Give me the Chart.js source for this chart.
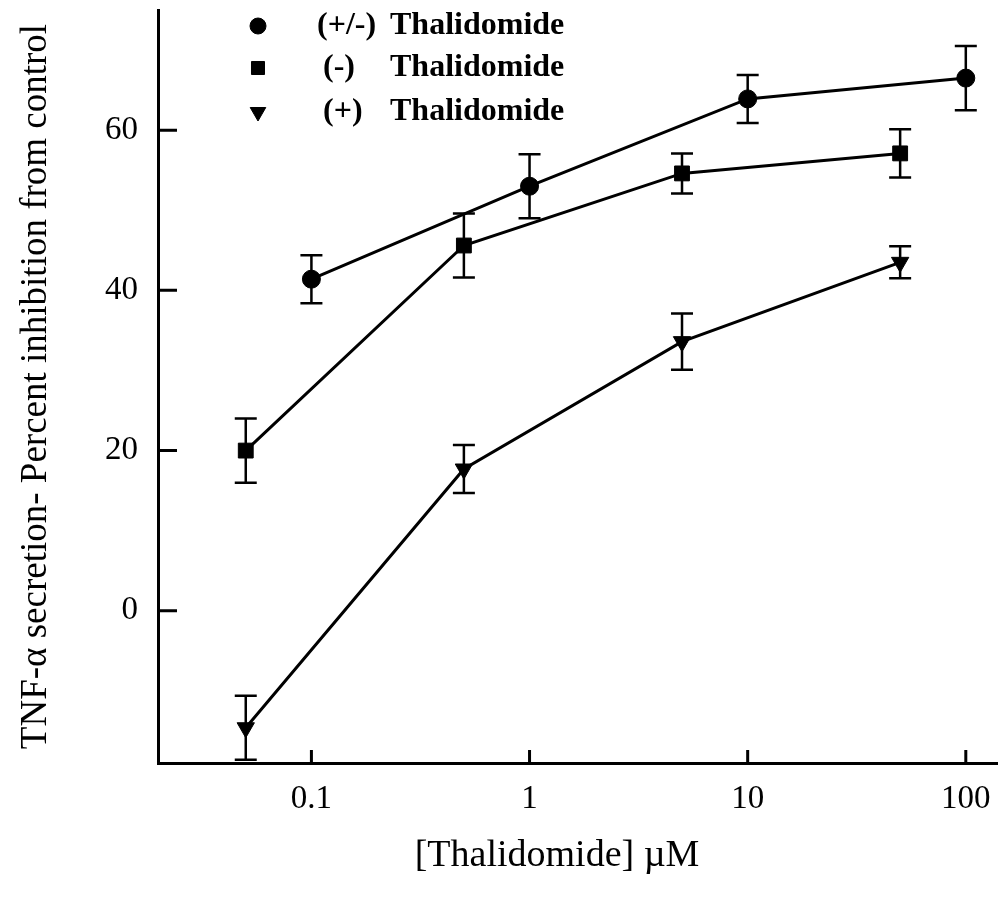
<!DOCTYPE html>
<html>
<head>
<meta charset="utf-8">
<title>TNF-α secretion vs Thalidomide</title>
<script src="https://cdn.jsdelivr.net/npm/chart.js@4.4.1/dist/chart.umd.min.js"></script>
<style>
  html, body { margin: 0; padding: 0; background: #fff; }
  canvas { display: block; }
</style>
</head>
<body>
<canvas id="chart" width="1002" height="900"></canvas>
<script>
// Concentrations (µM)
const doseRacemic = [0.1, 1, 10, 100];
const doseEnantiomer = [0.05, 0.5, 5, 50];

// Percent inhibition of TNF-α secretion (mean and error)
const racemicMean = [41.4, 53.0, 63.9, 66.5];
const racemicErr  = [3.0, 4.0, 3.0, 4.0];
const minusMean   = [20.0, 45.6, 54.6, 57.1];
const minusErr    = [4.0, 4.0, 2.5, 3.0];
const plusMean    = [-14.6, 17.7, 33.6, 43.5];
const plusErr     = [4.0, 3.0, 3.5, 2.0];

// Series labels
const seriesPrefixes = ['(+/-)', '(-)', '(+)'];
const seriesName = 'Thalidomide';

// Axis ticks and captions
const xTickValues = [0.1, 1, 10, 100];
const yTickValues = [0, 20, 40, 60];
const xAxisCaption = '[Thalidomide] µM';
const yAxisCaption = 'TNF-α secretion- Percent inhibition from control';

const SERIF = '"Liberation Serif", "Times New Roman", Times, serif';

function points(xs, ys) {
  return xs.map((x, i) => ({ x: x, y: ys[i] }));
}

// Vertical error bars with caps, drawn from each dataset's `errors` array
const errorBarPlugin = {
  id: 'errorBars',
  afterDatasetsDraw(chart, args, opts) {
    const ctx = chart.ctx;
    const xs = chart.scales.x, ys = chart.scales.y;
    ctx.save();
    ctx.strokeStyle = opts.color;
    ctx.lineWidth = opts.lineWidth;
    ctx.lineCap = 'butt';
    chart.data.datasets.forEach(ds => {
      ds.data.forEach((p, i) => {
        const e = ds.errors[i];
        const px = xs.getPixelForValue(p.x);
        const top = ys.getPixelForValue(p.y + e);
        const bot = ys.getPixelForValue(p.y - e);
        const h = opts.capWidth / 2;
        ctx.beginPath();
        ctx.moveTo(px, top); ctx.lineTo(px, bot);
        ctx.moveTo(px - h, top); ctx.lineTo(px + h, top);
        ctx.moveTo(px - h, bot); ctx.lineTo(px + h, bot);
        ctx.stroke();
      });
    });
    ctx.restore();
  }
};

// Tick marks pointing into the plot area
const innerTicksPlugin = {
  id: 'innerTicks',
  afterDraw(chart, args, opts) {
    const ctx = chart.ctx;
    const a = chart.chartArea;
    const xs = chart.scales.x, ys = chart.scales.y;
    ctx.save();
    ctx.strokeStyle = opts.color;
    ctx.lineWidth = opts.lineWidth;
    ctx.beginPath();
    yTickValues.forEach(v => {
      const py = ys.getPixelForValue(v);
      ctx.moveTo(a.left, py); ctx.lineTo(a.left + opts.yLength, py);
    });
    xTickValues.forEach(v => {
      const px = xs.getPixelForValue(v);
      ctx.moveTo(px, a.bottom); ctx.lineTo(px, a.bottom - opts.xLength);
    });
    ctx.stroke();
    ctx.restore();
  }
};

// Horizontal axis caption
const xCaptionPlugin = {
  id: 'xCaption',
  afterDraw(chart, args, opts) {
    const ctx = chart.ctx;
    ctx.save();
    ctx.fillStyle = '#000';
    ctx.font = opts.font;
    ctx.textAlign = 'center';
    ctx.textBaseline = 'middle';
    ctx.fillText(xAxisCaption, opts.x, opts.y);
    ctx.restore();
  }
};

// Legend block in the upper left of the plot
const symbolLegendPlugin = {
  id: 'symbolLegend',
  afterDraw(chart, args, opts) {
    const ctx = chart.ctx;
    ctx.save();
    ctx.fillStyle = '#000';
    ctx.font = opts.font;
    ctx.textBaseline = 'middle';
    ctx.textAlign = 'left';
    chart.data.datasets.forEach((ds, i) => {
      const y = opts.rowY[i];
      Chart.helpers.drawPoint(ctx, {
        pointStyle: ds.pointStyle,
        radius: opts.markerRadius[i],
        rotation: ds.pointRotation || 0,
        borderWidth: 1
      }, opts.markerX, y);
      ctx.fillStyle = '#000';
      ctx.fillText(seriesPrefixes[i], opts.prefixX[i], y);
      ctx.fillText(seriesName, opts.nameX, y);
    });
    ctx.restore();
  }
};

function series(i, xs, ys, errs, style, radius, rotation) {
  return {
    label: seriesPrefixes[i] + ' ' + seriesName,
    data: points(xs, ys),
    errors: errs,
    borderColor: '#000',
    backgroundColor: '#000',
    borderWidth: 3,
    pointStyle: style,
    pointRadius: radius,
    pointRotation: rotation,
    pointBackgroundColor: '#000',
    pointBorderColor: '#000',
    pointBorderWidth: 1,
    tension: 0,
    fill: false,
    clip: false
  };
}

new Chart(document.getElementById('chart'), {
  type: 'line',
  data: {
    datasets: [
      series(0, doseRacemic, racemicMean, racemicErr, 'circle', 9, 0),
      series(1, doseEnantiomer, minusMean, minusErr, 'rect', 10.5, 0),
      series(2, doseEnantiomer, plusMean, plusErr, 'triangle', 10, 180)
    ]
  },
  options: {
    responsive: false,
    animation: false,
    devicePixelRatio: 1,
    layout: { autoPadding: false, padding: { left: 0, top: 10, right: 5, bottom: 0 } },
    plugins: {
      legend: { display: false },
      tooltip: { enabled: false },
      errorBars: { color: '#000', lineWidth: 2.5, capWidth: 22 },
      innerTicks: { color: '#000', lineWidth: 3, yLength: 19, xLength: 13 },
      xCaption: { font: '38px ' + SERIF, x: 557, y: 856 },
      symbolLegend: {
        font: 'bold 32px ' + SERIF,
        markerX: 258,
        markerRadius: [8, 9.2, 9],
        rowY: [26, 68, 112],
        prefixX: [317, 323, 323],
        nameX: 390
      }
    },
    scales: {
      x: {
        type: 'logarithmic',
        min: 0.0198,
        max: 139,
        afterBuildTicks(scale) { scale.ticks = xTickValues.map(v => ({ value: v })); },
        afterFit(scale) {
          scale.height = 137;
          scale.paddingLeft = 0; scale.paddingRight = 0;
        },
        grid: { display: false, drawTicks: false },
        border: { display: true, color: '#000', width: 3 },
        ticks: {
          color: '#000',
          padding: 17,
          maxRotation: 0,
          autoSkip: false,
          font: { family: SERIF, size: 33 },
          callback: v => String(v)
        },
        title: { display: false }
      },
      y: {
        type: 'linear',
        min: -19,
        max: 75,
        afterBuildTicks(scale) { scale.ticks = yTickValues.map(v => ({ value: v })); },
        afterFit(scale) {
          scale.width = 158;
          scale.paddingTop = 0; scale.paddingBottom = 0;
        },
        grid: { display: false, drawTicks: false },
        border: { display: true, color: '#000', width: 3 },
        ticks: {
          color: '#000',
          padding: 20,
          font: { family: SERIF, size: 33 },
          callback: v => String(v)
        },
        title: {
          display: true,
          text: yAxisCaption,
          color: '#000',
          font: { family: SERIF, size: 37, lineHeight: 1 },
          padding: { top: 18, bottom: 0 }
        }
      }
    }
  },
  plugins: [errorBarPlugin, innerTicksPlugin, xCaptionPlugin, symbolLegendPlugin]
});
</script>
</body>
</html>
